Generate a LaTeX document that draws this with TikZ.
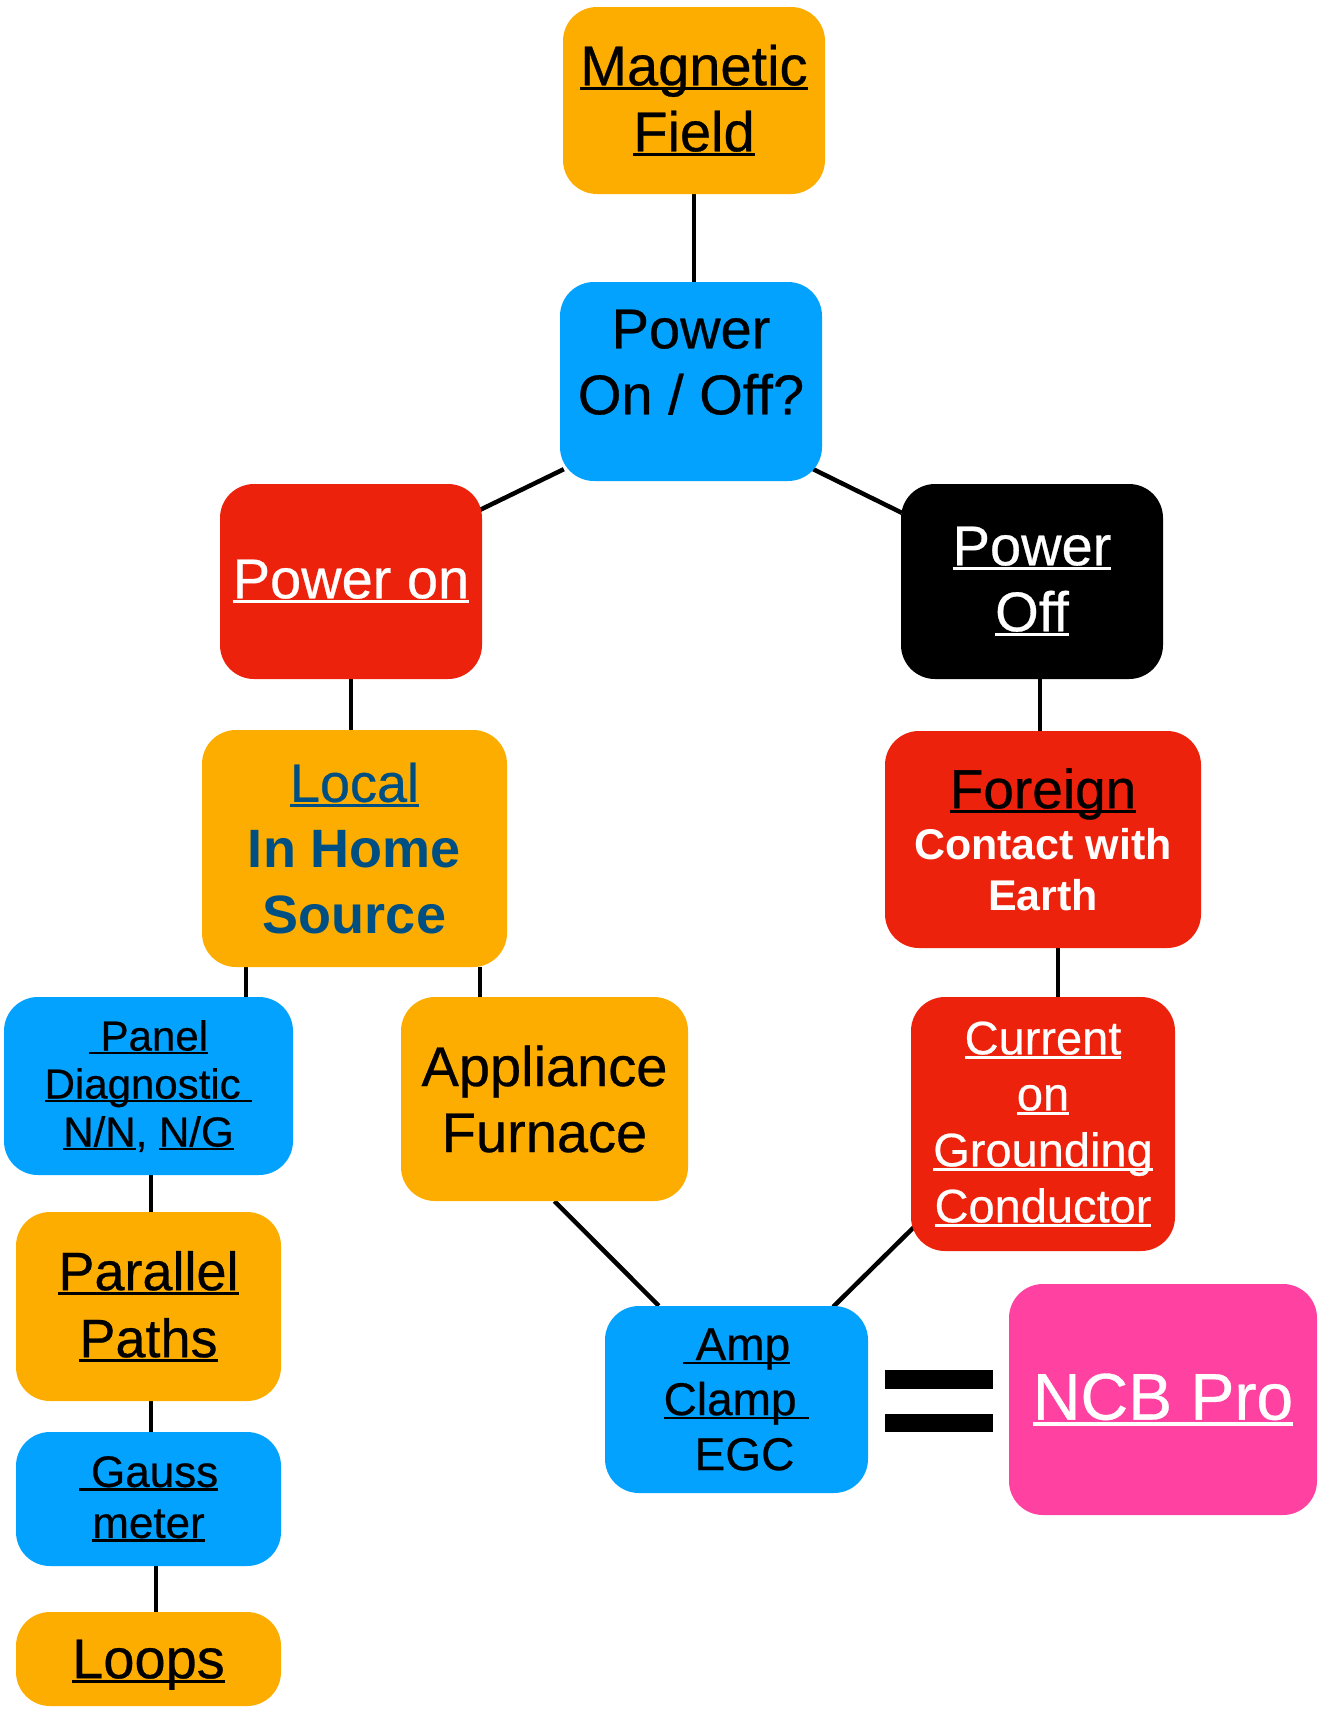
\documentclass[tikz,border=0pt]{standalone}
\usepackage{fontspec}
\setmainfont{Liberation Sans}[UprightFeatures={FakeBold=0.5}]
\usetikzlibrary{calc,backgrounds}
\definecolor{orgC}{RGB}{253,173,0}
\definecolor{bluC}{RGB}{3,162,255}
\definecolor{redC}{RGB}{237,34,13}
\definecolor{pnkC}{RGB}{255,66,161}
\definecolor{navC}{RGB}{0,79,130}
\newcommand{\myul}[1]{\leavevmode\setbox0=\hbox{#1}\rlap{\rule[-0.09em]{\wd0}{0.055em}}\box0}
\begin{document}
\begin{tikzpicture}[x=1pt,y=-1pt,
  box/.style={rounded corners=34pt, inner sep=0pt, align=center},
  conn/.style={line width=4.5pt}]
\useasboundingbox (0,0) rectangle (1323,1711);

\node[box, fill=orgC, minimum width=262pt, minimum height=187pt,
  font=\fontsize{56}{66}\selectfont] (mag) at (694,100.5)
  {\myul{Magnetic}\\ \myul{Field}};
\node[box, fill=bluC, minimum width=262pt, minimum height=199pt,
  font=\fontsize{56}{66}\selectfont] (pow) at (691,381.5)
  {Power\\ On / Off?\rule[-39pt]{0pt}{0pt}};
\node[box, fill=redC, minimum width=262pt, minimum height=195pt, text=white,
  font=\fontsize{56}{66}\selectfont] (pon) at (351,581.5)
  {\myul{Power on}};
\node[box, fill=black, minimum width=262pt, minimum height=195pt, text=white,
  font=\fontsize{56}{66}\selectfont] (poff) at (1032,581.5)
  {\myul{Power}\\ \myul{Off}};
\node[box, fill=orgC, minimum width=305pt, minimum height=237pt, text=navC,
  font=\fontsize{54}{66}\selectfont] (local) at (354.5,848.5)
  {\myul{Local}\\ \textbf{In Home}\\ \textbf{Source}};
\node[box, fill=redC, minimum width=316pt, minimum height=217pt,
  font=\fontsize{43}{51}\selectfont] (foreign) at (1043,839.5)
  {{\fontsize{55}{55}\selectfont\myul{Foreign}}\\
   \textcolor{white}{\textbf{Contact with}}\\ \textcolor{white}{\textbf{Earth}}};
\node[box, fill=redC, minimum width=264pt, minimum height=254pt, text=white,
  font=\fontsize{47}{56}\selectfont] (current) at (1043,1124)
  {\myul{Current}\\ \myul{on}\\ \myul{Grounding}\\ \myul{Conductor}};
\node[box, fill=bluC, minimum width=289pt, minimum height=178pt,
  font=\fontsize{42}{48}\selectfont] (panel) at (148.5,1086)
  {\myul{\ Panel}\\ \myul{Diagnostic\ }\\ \myul{N/N}, \myul{N/G}};
\node[box, fill=orgC, minimum width=287pt, minimum height=204pt,
  font=\fontsize{56}{66}\selectfont] (appl) at (544.5,1099)
  {Appliance\\ Furnace};
\node[box, fill=orgC, minimum width=265pt, minimum height=189pt,
  font=\fontsize{54}{67}\selectfont] (par) at (148.5,1306.5)
  {\myul{Parallel}\\ \myul{Paths}};
\node[box, fill=bluC, minimum width=265pt, minimum height=134pt,
  font=\fontsize{44}{51}\selectfont] (gauss) at (148.5,1499)
  {\myul{\ Gauss}\\ \myul{meter}};
\node[box, fill=orgC, minimum width=265pt, minimum height=94pt,
  font=\fontsize{56}{66}\selectfont] (loops) at (148.5,1659)
  {\rule{0pt}{50pt}\myul{Loops}};
\node[box, fill=bluC, minimum width=263pt, minimum height=187pt,
  font=\fontsize{46}{55}\selectfont] (amp) at (736.5,1399.5)
  {\myul{\ Amp}\\ \myul{Clamp\ }\\ \hspace*{16pt}EGC};
\node[box, fill=pnkC, minimum width=308pt, minimum height=231pt, text=white,
  font=\fontsize{66}{66}\selectfont] (ncb) at (1163,1399.5)
  {\myul{NCB Pro}};

\fill (885,1370) rectangle (993,1389);
\fill (885,1414) rectangle (993,1432);

\begin{scope}[on background layer]
\draw[conn] (mag.south) -- (mag.south |- pow.north);
\draw[conn] ($(pow.south west)+(4,-12)$) -- ($(pon.north east)+(-2,26)$);
\draw[conn] ($(pow.south east)+(-9,-12)$) -- ($(poff.north west)+(1,29)$);
\draw[conn] (pon.south) -- (pon.south |- local.north);
\draw[conn] (poff.south -| 1040,0) -- (foreign.north -| 1040,0);
\draw[conn] (local.south -| 246,0) -- (panel.north -| 246,0);
\draw[conn] (local.south -| 480,0) -- (appl.north -| 480,0);
\draw[conn] (foreign.south -| 1058,0) -- (current.north -| 1058,0);
\draw[conn] (panel.south -| 151,0) -- (par.north -| 151,0);
\draw[conn] (par.south -| 151,0) -- (gauss.north -| 151,0);
\draw[conn] (gauss.south -| 156,0) -- (loops.north -| 156,0);
\draw[conn] ($(appl.south)+(10,0)$) -- ($(amp.north west)+(54,0)$);
\draw[conn] ($(current.south west)+(4,-25)$) -- ($(amp.north east)+(-35,1)$);
\end{scope}
\end{tikzpicture}
\end{document}
